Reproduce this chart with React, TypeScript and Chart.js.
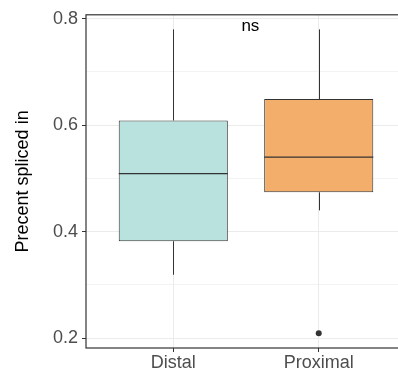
import React, { useEffect, useRef } from "react";
import { Chart, registerables } from "chart.js";

Chart.register(...registerables);

const categories = ["Distal", "Proximal"];
const whiskerLow = [0.319, 0.44];
const q1 = [0.382, 0.474];
const median = [0.509, 0.54];
const q3 = [0.609, 0.649];
const whiskerHigh = [0.78, 0.78];
const outlierX = [1];
const outlierY = [0.209];
const fills = ["#B9E2DE", "#F4AE6B"];
const yTicks = [0.2, 0.3, 0.4, 0.5, 0.6, 0.7, 0.8];
const yTickLabels = ["0.2", "", "0.4", "", "0.6", "", "0.8"];
const annotationText = "ns";

const FONT = "'Liberation Sans', Arial, Helvetica, sans-serif";
const DARK = "#333333";

const boxPlugin = {
  id: "boxExtras",
  afterDatasetsDraw(chart: any) {
    const { ctx, scales, chartArea } = chart;
    const ys = scales.y;
    const meta = chart.getDatasetMeta(0);
    ctx.save();
    ctx.strokeStyle = DARK;
    ctx.lineWidth = 1;
    categories.forEach((_, i) => {
      const el = meta.data[i];
      const x = Math.round(el.x) + 0.5;
      const half = el.width / 2;
      ctx.beginPath();
      ctx.moveTo(x, ys.getPixelForValue(q3[i]));
      ctx.lineTo(x, ys.getPixelForValue(whiskerHigh[i]));
      ctx.moveTo(x, ys.getPixelForValue(q1[i]));
      ctx.lineTo(x, ys.getPixelForValue(whiskerLow[i]));
      ctx.stroke();
      ctx.beginPath();
      ctx.lineWidth = 1.2;
      const my = ys.getPixelForValue(median[i]);
      ctx.moveTo(el.x - half, my);
      ctx.lineTo(el.x + half, my);
      ctx.stroke();
      ctx.lineWidth = 1;
    });
    ctx.fillStyle = "#000000";
    ctx.font = `17px ${FONT}`;
    ctx.textAlign = "center";
    ctx.textBaseline = "middle";
    ctx.fillText(annotationText, scales.x.getPixelForValue(0.53), ys.getPixelForValue(0.786));
    ctx.strokeStyle = DARK;
    ctx.lineWidth = 1.2;
    ctx.strokeRect(chartArea.left, chartArea.top, chartArea.right - chartArea.left, chartArea.bottom - chartArea.top);
    ctx.restore();
  },
};

export default function App() {
  const ref = useRef<HTMLCanvasElement>(null);
  useEffect(() => {
    if (!ref.current) return;
    const chart = new Chart(ref.current, {
      type: "bar",
      data: {
        datasets: [
          {
            type: "bar",
            data: categories.map((_, i) => ({ x: i, y: [q1[i], q3[i]] })) as any,
            backgroundColor: fills,
            borderColor: DARK,
            borderWidth: 1,
            borderSkipped: false,
            barPercentage: 0.75,
            categoryPercentage: 1,
          } as any,
          {
            type: "scatter",
            data: outlierX.map((x, i) => ({ x, y: outlierY[i] })),
            backgroundColor: DARK,
            borderColor: DARK,
            pointRadius: 3,
            borderWidth: 0,
          } as any,
        ],
      },
      options: {
        animation: false,
        responsive: false,
        devicePixelRatio: 1,
        layout: { padding: { top: 10, right: 1.5, bottom: 0, left: 0 } },
        plugins: { legend: { display: false }, tooltip: { enabled: false } },
        scales: {
          x: {
            type: "linear",
            min: -0.6,
            max: 1.6,
            offset: false,
            afterBuildTicks: (s: any) => {
              s.ticks = categories.map((_, i) => ({ value: i }));
            },
            afterFit: (s: any) => {
              s.height = 29;
            },
            ticks: {
              callback: (v: any) => categories[v] ?? "",
              color: "#4D4D4D",
              font: { family: FONT, size: 18 },
              padding: 0,
              maxRotation: 0,
              autoSkip: false,
            },
            grid: {
              offset: false,
              color: "#EBEBEB",
              lineWidth: 1,
              tickColor: DARK,
              tickLength: 4,
              drawTicks: true,
            },
            border: { display: false },
          },
          y: {
            type: "linear",
            min: 0.1815,
            max: 0.8074,
            afterBuildTicks: (s: any) => {
              s.ticks = yTicks.map((v) => ({ value: v }));
            },
            afterFit: (s: any) => {
              s.width = 86;
            },
            ticks: {
              callback: (_v: any, i: number) => yTickLabels[i],
              color: "#4D4D4D",
              font: { family: FONT, size: 18 },
              padding: 4,
              autoSkip: false,
            },
            grid: {
              color: "#EBEBEB",
              lineWidth: (c: any) => (yTickLabels[c.index] ? 1 : 0.6),
              tickColor: (c: any) => (yTickLabels[c.index] ? DARK : "rgba(0,0,0,0)"),
              tickLength: 4,
            },
            border: { display: false },
            title: {
              display: true,
              text: "Precent spliced in",
              color: "#000000",
              font: { family: FONT, size: 18 },
              padding: { top: 12, bottom: 0 },
            },
          },
        },
      },
      plugins: [boxPlugin],
    });
    return () => chart.destroy();
  }, []);
  return (
    <div style={{ position: "absolute", left: 0, top: 0, width: 398, height: 377, overflow: "hidden", background: "#fff" }}>
      <canvas ref={ref} width={410} height={377} style={{ display: "block", width: 410, height: 377 }} />
    </div>
  );
}
